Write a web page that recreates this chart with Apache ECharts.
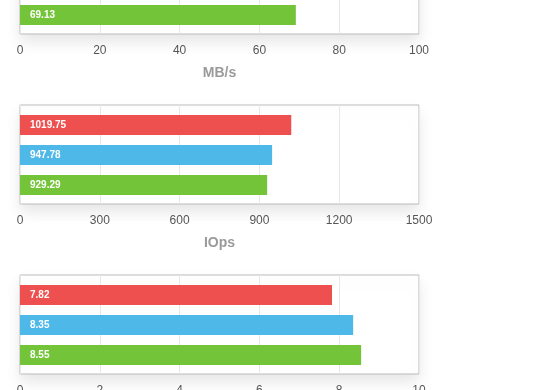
<!DOCTYPE html>
<html><head><meta charset="utf-8">
<script src="https://cdn.jsdelivr.net/npm/echarts@6/dist/echarts.min.js"></script>
<style>html,body{margin:0;padding:0;background:#fff;overflow:hidden}#c{width:560px;height:480px;margin-top:-80px}</style>
</head><body><div id="c"></div>
<script>
const categories = ['A', 'B', 'C'];
const barColors = ['#EE4F4F', '#4EB8E9', '#74C43A'];
const mbpsValues = [75.86, 70.51, 69.13];
const iopsValues = [1019.75, 947.78, 929.29];
const latencyValues = [7.82, 8.35, 8.55];
const panelNames = ['MB/s', 'IOps', ''];
const panelMax = [100, 1500, 10];
const panelInterval = [20, 300, 2];
const panelData = [mbpsValues, iopsValues, latencyValues];

const font = 'Liberation Sans, Arial, Helvetica, sans-serif';
const tops = [15, 185, 355];
const grids = [], xAxes = [], yAxes = [], series = [];
for (let i = 0; i < 3; i++) {
  // outer frame grid
  grids.push({
    left: 20, width: 399, top: tops[i], height: 99,
    show: true, borderColor: '#bbbbbb', borderWidth: 1, backgroundColor: '#fff',
    shadowColor: 'rgba(0,0,0,0.10)', shadowBlur: 14, shadowOffsetY: 8
  });
  xAxes.push({
    gridIndex: 2 * i, type: 'value', min: 0, max: panelMax[i], interval: panelInterval[i],
    name: panelNames[i], nameLocation: 'middle', nameGap: 32,
    nameTextStyle: { color: '#9a9a9a', fontSize: 14, fontWeight: 'bold', fontFamily: font },
    axisLine: { show: false }, axisTick: { show: false },
    axisLabel: { color: '#555', fontSize: 12, margin: 11, fontFamily: font, formatter: v => String(v) },
    splitLine: { show: true, lineStyle: { color: '#e8e8e8', width: 1 } }
  });
  yAxes.push({
    gridIndex: 2 * i, type: 'category', data: categories, inverse: true, show: false
  });
  // inner bar grid
  grids.push({ left: 20, width: 399, top: tops[i] + 5, height: 90, show: false });
  xAxes.push({
    gridIndex: 2 * i + 1, type: 'value', min: 0, max: panelMax[i], interval: panelInterval[i], show: false,
    splitLine: { show: false }
  });
  yAxes.push({
    gridIndex: 2 * i + 1, type: 'category', data: categories, inverse: true, show: false
  });
  series.push({
    type: 'bar', xAxisIndex: 2 * i + 1, yAxisIndex: 2 * i + 1, barWidth: 20, silent: true,
    data: panelData[i].map((v, j) => ({ value: v, itemStyle: { color: barColors[j] } })),
    label: { show: true, position: 'insideLeft', distance: 10, color: '#fff', fontSize: 10, fontWeight: 'bold', fontFamily: font,
      formatter: p => p.value.toFixed(2) }
  });
}
const chart = echarts.init(document.getElementById('c'), null, { renderer: 'canvas' });
chart.setOption({ animation: false, grid: grids, xAxis: xAxes, yAxis: yAxes, series: series });
</script></body></html>
